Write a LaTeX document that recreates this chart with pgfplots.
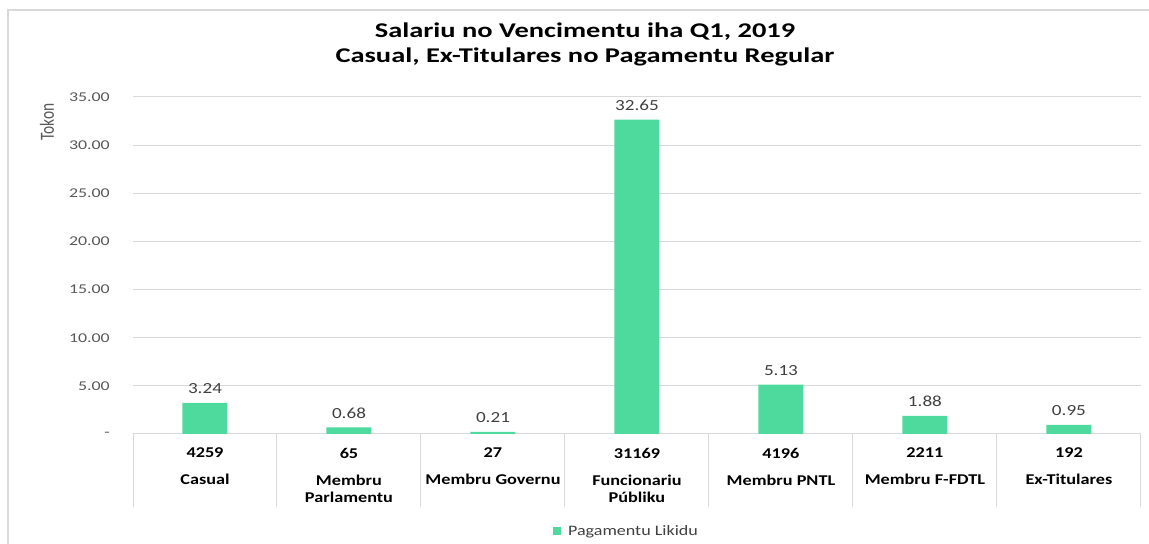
\documentclass[border=0pt]{standalone}
\usepackage{graphicx}
\usepackage{pgfplots}
\pgfplotsset{compat=1.18}
\usepackage{fontspec}
\setmainfont{Carlito}
\definecolor{barcol}{RGB}{78,217,157}
\definecolor{gridgray}{RGB}{217,217,217}
\definecolor{ticktxt}{RGB}{89,89,89}
\definecolor{lbltxt}{RGB}{64,64,64}
\newcommand{\sx}[2]{\scalebox{#1}[1]{#2}}
\begin{document}
\begin{tikzpicture}[x=1bp,y=1bp]
\path[use as bounding box] (0,0) rectangle (1149,544);
\draw[gridgray, line width=2bp] (8,0) -- (8,534) -- (1149,534);
\node[anchor=base, font=\bfseries\fontsize{21}{25}\selectfont, inner sep=0pt] at (585,506.5) {\sx{1.36}{Salariu no Vencimentu iha Q1, 2019}};
\node[anchor=base, font=\bfseries\fontsize{21}{25}\selectfont, inner sep=0pt] at (585,481.5) {\sx{1.36}{Casual, Ex-Titulares no Pagamentu Regular}};
\node[rotate=90, font=\fontsize{15.5}{18}\selectfont, text=ticktxt, inner sep=0pt] at (47,422) {\scalebox{1}[1.3]{Tokon}};
\begin{axis}[
  at={(133bp,110bp)}, anchor=south west, scale only axis,
  width=1008bp, height=337bp,
  xmin=-0.5, xmax=6.5, ymin=0, ymax=35,
  axis line style={draw=none},
  ymajorgrids, grid style={gridgray, line width=1bp},
  ytick={0,5,...,35},
  yticklabels={\sx{1.33}{-}\hspace{8bp},\sx{1.33}{5.00},\sx{1.33}{10.00},\sx{1.33}{15.00},\sx{1.33}{20.00},\sx{1.33}{25.00},\sx{1.33}{30.00},\sx{1.33}{35.00}},
  yticklabel style={anchor=east, inner sep=0pt, xshift=-23bp, font=\fontsize{13.5}{16}\selectfont, text=ticktxt},
  ytick style={draw=none},
  xtick={0,...,6},
  xtick pos=left,
  xticklabels={
    {\sx{1.22}{4259}\\[9.6bp]\sx{1.22}{Casual}},
    {\sx{1.22}{65}\\[9.6bp]\sx{1.22}{Membru}\\\sx{1.22}{Parlamentu}},
    {\sx{1.22}{27}\\[9.6bp]\sx{1.22}{Membru Governu}},
    {\sx{1.22}{31169}\\[9.6bp]\sx{1.22}{Funcionariu}\\\sx{1.22}{Públiku}},
    {\sx{1.22}{4196}\\[9.6bp]\sx{1.22}{Membru PNTL}},
    {\sx{1.22}{2211}\\[9.6bp]\sx{1.22}{Membru F-FDTL}},
    {\sx{1.22}{192}\\[9.6bp]\sx{1.22}{Ex-Titulares}}},
  xticklabel style={align=center, anchor=north, inner sep=0pt, yshift=-13.8bp, font=\bfseries\fontsize{15}{17.4}\selectfont, text=black},
  major tick length=0pt,
  tick style={draw=gridgray, line width=1bp},
  extra x ticks={-0.5,0.5,1.5,2.5,3.5,4.5,5.5,6.5},
  extra x tick labels={},
  extra x tick style={major tick length=73bp, tick align=outside, grid=none, xtick pos=left},
  /pgf/number format/fixed, /pgf/number format/fixed zerofill,
  /pgf/number format/precision=2, /pgf/number format/assume math mode=true,
  legend style={at={(0.4896,-0.288)}, anchor=center, draw=none, fill=none,
    font=\fontsize{14.5}{17}\selectfont, text=lbltxt,
    /tikz/every odd column/.append style={column sep=5bp}},
  legend image code/.code={\fill[barcol] (0bp,-4bp) rectangle (8bp,4bp);},
  clip=false,
]
\addplot[ybar, bar width=45bp, fill=barcol, draw=none,
  nodes near coords={\sx{1.24}{\pgfmathprintnumber{\pgfplotspointmeta}}},
  nodes near coords style={font=\fontsize{15.5}{18}\selectfont, text=lbltxt, anchor=south, yshift=5.5bp}]
  coordinates {(0,3.24) (1,0.68) (2,0.21) (3,32.65) (4,5.13) (5,1.88) (6,0.95)};
\addlegendentry{\sx{1.25}{Pagamentu Likidu}}
\end{axis}
\end{tikzpicture}
\end{document}
